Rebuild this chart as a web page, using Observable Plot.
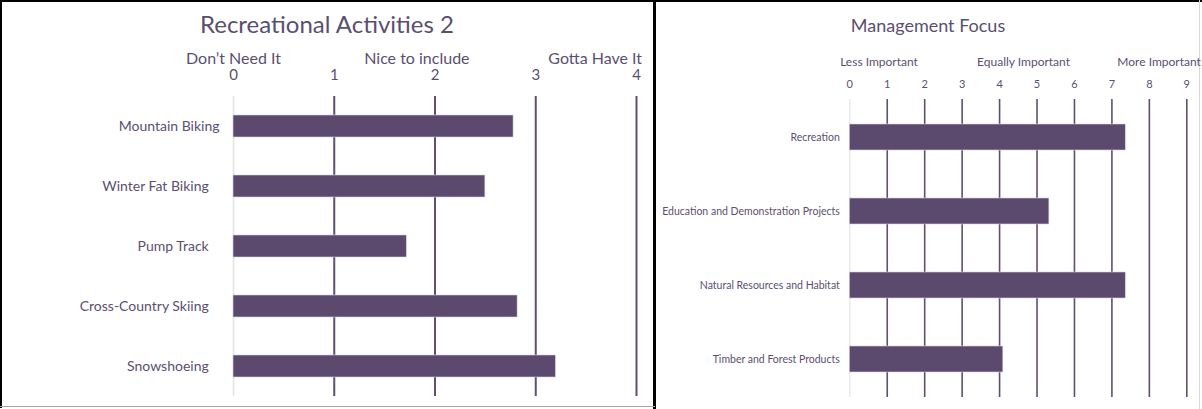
<!DOCTYPE html>
<html>
<head>
<meta charset="utf-8">
<script src="https://cdn.jsdelivr.net/npm/d3@7"></script>
<script src="https://cdn.jsdelivr.net/npm/@observablehq/plot@0.6"></script>
<style>
  html, body { margin: 0; padding: 0; background: #fff; }
  body { width: 1202px; height: 409px; position: relative; overflow: hidden; font-family: Lato, sans-serif; }
  .abs { position: absolute; }
  .title { position: absolute; text-align: center; color: #5b4f70; line-height: 1; white-space: nowrap; }
  #leftChart svg, #rightChart svg { display: block; overflow: visible; }
</style>
</head>
<body>
<!-- panel frames -->
<div class="abs" style="left:0;top:0;width:1202px;height:2px;background:#000"></div>
<div class="abs" style="left:0;top:0;width:2px;height:408px;background:#000"></div>
<div class="abs" style="left:653px;top:0;width:3px;height:409px;background:#000"></div>
<div class="abs" style="left:0;top:406px;width:655px;height:1px;background:#a6a6a6"></div>
<div class="abs" style="left:1199px;top:0;width:1px;height:409px;background:#d9d9d9"></div>

<div class="title" id="leftTitle" style="left:0;width:654px;top:12px;font-size:24px;"></div>
<div class="title" id="rightTitle" style="left:656px;width:544px;top:16px;font-size:18px;"></div>
<div class="abs" id="leftChart" style="left:0;top:0"></div>
<div class="abs" id="rightChart" style="left:656px;top:0"></div>

<script>
// ---------- data ----------
const leftTitleText = "Recreational Activities 2";
const leftCategories = ["Mountain Biking", "Winter Fat Biking", "Pump Track", "Cross-Country Skiing", "Snowshoeing"];
const leftValues = [2.78, 2.50, 1.72, 2.82, 3.20];
const leftTicks = [0, 1, 2, 3, 4];
const leftScaleLabels = ["Don’t Need It", "Nice to include", "Gotta Have It"];
const leftScaleLabelAt = [0, 1.82, 3.59];

const rightTitleText = "Management Focus";
const rightCategories = ["Recreation", "Education and Demonstration Projects", "Natural Resources and Habitat", "Timber and Forest Products"];
const rightValues = [7.37, 5.33, 7.37, 4.10];
const rightTicks = [0, 1, 2, 3, 4, 5, 6, 7, 8, 9];
const rightScaleLabels = ["Less Important", "Equally Important", "More Important"];
const rightScaleLabelAt = [0.78, 4.64, 8.26];

// ---------- styles ----------
const barColor = "#5c4a6e";
const gridColor = "#5e4f73";
const zeroColor = "#e3e3e3";
const textColor = "#5b4f70";

document.getElementById("leftTitle").textContent = leftTitleText;
document.getElementById("rightTitle").textContent = rightTitleText;

const leftData = leftCategories.map((c, i) => ({category: c, value: leftValues[i]}));
const rightData = rightCategories.map((c, i) => ({category: c, value: rightValues[i]}));

const leftPlot = Plot.plot({
  width: 654, height: 407,
  marginLeft: 233, marginRight: 18, marginTop: 96, marginBottom: 11,
  style: {fontFamily: "Lato, sans-serif", color: textColor, background: "transparent", overflow: "visible"},
  x: {domain: [0, 4], axis: null, label: null},
  y: {domain: leftCategories, paddingInner: 0.64, paddingOuter: 0.32, axis: null, label: null},
  marks: [
    Plot.ruleX([0], {stroke: zeroColor, strokeWidth: 1.5}),
    Plot.ruleX(leftTicks.slice(1), {stroke: gridColor, strokeWidth: 2}),
    Plot.barX(leftData, {x: "value", y: "category", fill: barColor, stroke: "#d8d2e0", strokeWidth: 0.6}),
    Plot.axisX(leftTicks, {anchor: "top", tickSize: 0, tickPadding: 17, fontSize: 15, fill: textColor, label: null}),
    Plot.axisY({tickSize: 0, tickPadding: 14, fontSize: 14, fill: textColor, label: null,
      tickFormat: d => d === "Mountain Biking" ? d : d + "\u00a0\u00a0\u00a0"}),
    Plot.text(leftScaleLabels, {x: (d, i) => leftScaleLabelAt[i], text: d => d, frameAnchor: "top",
      lineAnchor: "bottom", dy: -33, fontSize: 16, fill: textColor})
  ]
});
document.getElementById("leftChart").appendChild(leftPlot);

const rightPlot = Plot.plot({
  width: 546, height: 407,
  marginLeft: 193.3, marginRight: 15.7, marginTop: 99, marginBottom: 10,
  style: {fontFamily: "Lato, sans-serif", color: textColor, background: "transparent", overflow: "visible"},
  x: {domain: [0, 9], axis: null, label: null},
  y: {domain: rightCategories, paddingInner: 0.65, paddingOuter: 0.325, axis: null, label: null},
  marks: [
    Plot.ruleX([0], {stroke: zeroColor, strokeWidth: 1.2}),
    Plot.ruleX(rightTicks.slice(1), {stroke: gridColor, strokeWidth: 1.6}),
    Plot.barX(rightData, {x: "value", y: "category", fill: barColor, stroke: "#d8d2e0", strokeWidth: 0.6}),
    Plot.axisX(rightTicks, {anchor: "top", tickSize: 0, tickPadding: 12, fontSize: 11, fill: textColor, label: null}),
    Plot.axisY({tickSize: 0, tickPadding: 10, fontSize: 10.5, fill: textColor, label: null}),
    Plot.text(rightScaleLabels, {x: (d, i) => rightScaleLabelAt[i], text: d => d, frameAnchor: "top",
      lineAnchor: "bottom", dy: -34, fontSize: 12, fill: textColor})
  ]
});
document.getElementById("rightChart").appendChild(rightPlot);
</script>
</body>
</html>
